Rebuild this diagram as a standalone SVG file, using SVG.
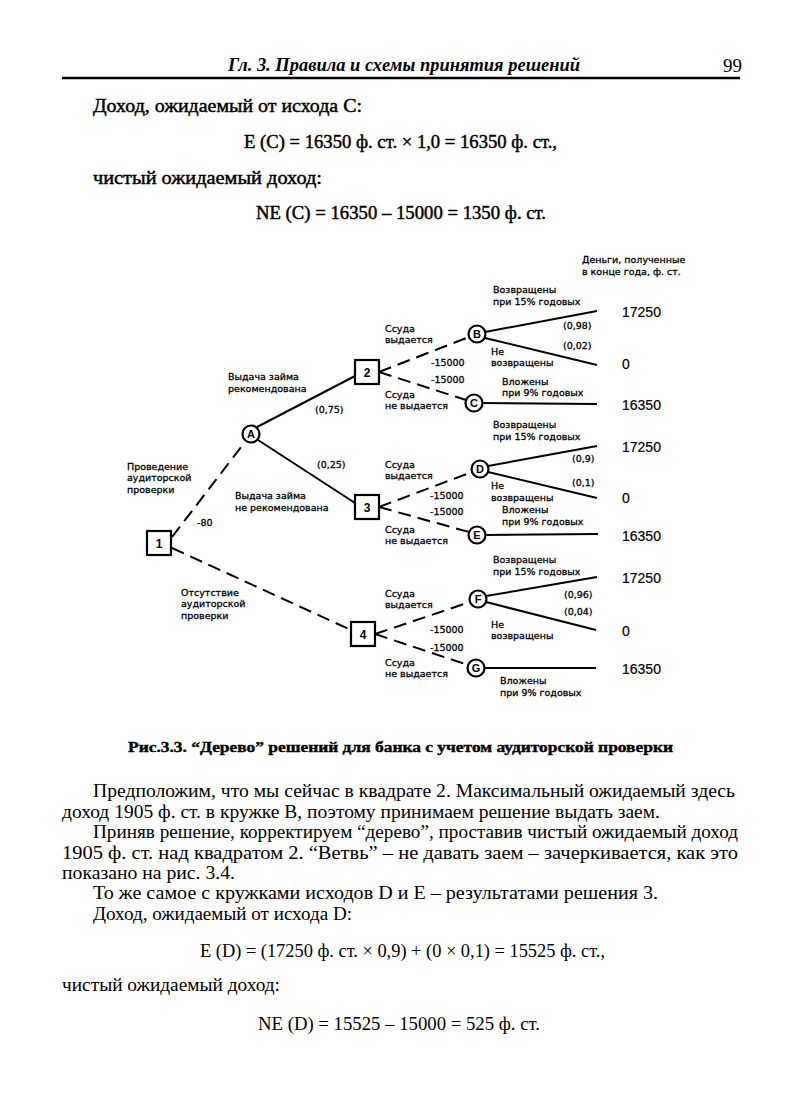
<svg xmlns="http://www.w3.org/2000/svg" width="800" height="1095" viewBox="0 0 800 1095">
<style>
.body{font-family:"Liberation Serif","Times New Roman",serif;font-size:18px;fill:#000}
.bold{stroke:#000;stroke-width:0.45}
.hdr{font-family:"Liberation Serif",serif;font-style:italic;font-weight:bold;font-size:19px}
.lbl{font-family:"DejaVu Sans",sans-serif;font-size:9.5px;fill:#000;stroke:#000;stroke-width:0.3}
.val{font-family:"Liberation Sans",Arial,sans-serif;font-size:14px;fill:#000;stroke:#000;stroke-width:0.2}
.sq{fill:#fff;stroke:#000;stroke-width:2.2}
.cir{fill:#fff;stroke:#000;stroke-width:2.2}
.nl{font-family:"Liberation Sans",Arial,sans-serif;font-weight:bold;font-size:12px;text-anchor:middle}
.cl{font-family:"Liberation Sans",Arial,sans-serif;font-weight:bold;font-size:11px;text-anchor:middle}
.solid{stroke:#000;stroke-width:2;fill:none}
.dash{stroke:#000;stroke-width:2;fill:none;stroke-dasharray:13 7}
</style>
<rect width="800" height="1095" fill="#fff"/>
<!-- header -->
<text class="hdr" x="228" y="71" textLength="352" lengthAdjust="spacingAndGlyphs">Гл. 3. Правила и схемы принятия решений</text>
<text class="body" x="723" y="72" style="font-size:19px">99</text>
<line x1="62" y1="78" x2="740" y2="78" stroke="#000" stroke-width="2.5"/>
<!-- top text -->
<g class="body bold">
<text x="93" y="112" textLength="269" lengthAdjust="spacingAndGlyphs">Доход, ожидаемый от исхода С:</text>
<text x="244" y="148" textLength="313" lengthAdjust="spacingAndGlyphs">E (C) = 16350 ф. ст. × 1,0 = 16350 ф. ст.,</text>
<text x="93" y="184" textLength="229" lengthAdjust="spacingAndGlyphs">чистый ожидаемый доход:</text>
<text x="256" y="219" textLength="290" lengthAdjust="spacingAndGlyphs">NE (C) = 16350 – 15000 = 1350 ф. ст.</text>
</g>
<!-- connectors -->
<g id="connectors">
<line class="dash" x1="172" y1="537" x2="245" y2="442"/>
<line class="dash" x1="172" y1="548" x2="351" y2="630"/>
<line class="solid" x1="257" y1="427" x2="355" y2="376"/>
<line class="solid" x1="258" y1="440" x2="355" y2="503"/>
<line class="dash" x1="379" y1="372" x2="469" y2="337"/>
<line class="dash" x1="379" y1="372" x2="466" y2="400"/>
<line class="dash" x1="379" y1="507" x2="472" y2="472"/>
<line class="dash" x1="379" y1="507" x2="469" y2="532"/>
<line class="dash" x1="375" y1="634" x2="470" y2="602"/>
<line class="dash" x1="375" y1="634" x2="468" y2="665"/>
<line class="solid" x1="485" y1="332" x2="597" y2="311"/>
<line class="solid" x1="485" y1="338" x2="597" y2="365"/>
<line class="solid" x1="482" y1="403" x2="597" y2="404"/>
<line class="solid" x1="488" y1="466" x2="597" y2="446"/>
<line class="solid" x1="488" y1="472" x2="597" y2="498"/>
<line class="solid" x1="485" y1="535" x2="598" y2="534"/>
<line class="solid" x1="486" y1="596" x2="597" y2="577"/>
<line class="solid" x1="486" y1="602" x2="596" y2="630"/>
<line class="solid" x1="484" y1="668" x2="596" y2="668"/>
</g>
<!-- nodes -->
<g id="n1"><rect class="sq" x="147" y="531" width="24" height="24"/><text class="nl" x="159" y="548">1</text></g>
<g id="n2"><rect class="sq" x="355" y="360" width="24" height="24"/><text class="nl" x="367" y="377">2</text></g>
<g id="n3"><rect class="sq" x="355" y="495" width="24" height="24"/><text class="nl" x="367" y="512">3</text></g>
<g id="n4"><rect class="sq" x="351" y="622" width="24" height="24"/><text class="nl" x="363" y="639">4</text></g>
<g id="nA"><circle class="cir" cx="251" cy="434" r="8.5"/><text class="cl" x="251" y="438">A</text></g>
<g id="nB"><circle class="cir" cx="477" cy="334" r="8.5"/><text class="cl" x="477" y="338">B</text></g>
<g id="nC"><circle class="cir" cx="474" cy="403" r="8.5"/><text class="cl" x="474" y="407">C</text></g>
<g id="nD"><circle class="cir" cx="480" cy="469" r="8.5"/><text class="cl" x="480" y="473">D</text></g>
<g id="nE"><circle class="cir" cx="477" cy="535" r="8.5"/><text class="cl" x="477" y="539">E</text></g>
<g id="nF"><circle class="cir" cx="478" cy="599" r="8.5"/><text class="cl" x="478" y="603">F</text></g>
<g id="nG"><circle class="cir" cx="476" cy="668" r="8.5"/><text class="cl" x="476" y="672">G</text></g>
<!-- labels -->
<g class="lbl">
<text x="582" y="263">Деньги, полученные</text>
<text x="582" y="275">в конце года, ф. ст.</text>
<text x="493" y="293">Возвращены</text>
<text x="493" y="305">при 15% годовых</text>
<text x="563" y="329">(0,98)</text>
<text x="563" y="349">(0,02)</text>
<text x="491" y="355">Не</text>
<text x="491" y="366">возвращены</text>
<text x="502" y="385">Вложены</text>
<text x="502" y="396">при 9% годовых</text>
<text x="385" y="332">Ссуда</text>
<text x="385" y="343">выдается</text>
<text x="431" y="366">-15000</text>
<text x="431" y="383">-15000</text>
<text x="385" y="398">Ссуда</text>
<text x="385" y="409">не выдается</text>
<text x="228" y="380">Выдача займа</text>
<text x="228" y="392">рекомендована</text>
<text x="315" y="413">(0,75)</text>
<text x="493" y="428">Возвращены</text>
<text x="493" y="440">при 15% годовых</text>
<text x="572" y="462">(0,9)</text>
<text x="572" y="486">(0,1)</text>
<text x="491" y="489">Не</text>
<text x="491" y="501">возвращены</text>
<text x="502" y="513">Вложены</text>
<text x="502" y="525">при 9% годовых</text>
<text x="317" y="468">(0,25)</text>
<text x="385" y="468">Ссуда</text>
<text x="385" y="479">выдается</text>
<text x="430" y="499">-15000</text>
<text x="430" y="515">-15000</text>
<text x="385" y="533">Ссуда</text>
<text x="385" y="544">не выдается</text>
<text x="235" y="499">Выдача займа</text>
<text x="235" y="511">не рекомендована</text>
<text x="127" y="470">Проведение</text>
<text x="127" y="481">аудиторской</text>
<text x="127" y="493">проверки</text>
<text x="197" y="526">-80</text>
<text x="181" y="596">Отсутствие</text>
<text x="181" y="607">аудиторской</text>
<text x="181" y="619">проверки</text>
<text x="385" y="597">Ссуда</text>
<text x="385" y="608">выдается</text>
<text x="430" y="633">-15000</text>
<text x="430" y="651">-15000</text>
<text x="385" y="666">Ссуда</text>
<text x="385" y="677">не выдается</text>
<text x="493" y="563">Возвращены</text>
<text x="493" y="575">при 15% годовых</text>
<text x="564" y="598">(0,96)</text>
<text x="564" y="615">(0,04)</text>
<text x="491" y="628">Не</text>
<text x="491" y="639">возвращены</text>
<text x="500" y="684">Вложены</text>
<text x="500" y="696">при 9% годовых</text>
</g>
<g class="val">
<text x="622" y="317">17250</text>
<text x="622" y="369">0</text>
<text x="622" y="410">16350</text>
<text x="622" y="452">17250</text>
<text x="622" y="503">0</text>
<text x="622" y="541">16350</text>
<text x="622" y="583">17250</text>
<text x="622" y="636">0</text>
<text x="622" y="674">16350</text>
</g>
<!-- caption -->
<text class="body" x="128" y="752" font-weight="bold" stroke="#000" stroke-width="0.4" style="font-size:15px" textLength="545" lengthAdjust="spacingAndGlyphs">Рис.3.3. “Дерево” решений для банка с учетом аудиторской проверки</text>
<!-- paragraphs -->
<g class="body">
<text x="93" y="797" textLength="642" lengthAdjust="spacingAndGlyphs">Предположим, что мы сейчас в квадрате 2. Максимальный ожидаемый здесь</text>
<text x="62" y="818" textLength="598" lengthAdjust="spacingAndGlyphs">доход 1905 ф. ст. в кружке В, поэтому принимаем решение выдать заем.</text>
<text x="93" y="838" textLength="645" lengthAdjust="spacingAndGlyphs">Приняв решение, корректируем “дерево”, проставив чистый ожидаемый доход</text>
<text x="62" y="859" textLength="676" lengthAdjust="spacingAndGlyphs">1905 ф. ст. над квадратом 2. “Ветвь” – не давать заем – зачеркивается, как это</text>
<text x="62" y="879" textLength="173" lengthAdjust="spacingAndGlyphs">показано на рис. 3.4.</text>
<text x="93" y="899" textLength="565" lengthAdjust="spacingAndGlyphs">То же самое с кружками исходов D и E – результатами решения 3.</text>
<text x="93" y="920" textLength="259" lengthAdjust="spacingAndGlyphs">Доход, ожидаемый от исхода D:</text>
<text x="200" y="957" textLength="405" lengthAdjust="spacingAndGlyphs">E (D) = (17250 ф. ст. × 0,9) + (0  × 0,1) = 15525 ф. ст.,</text>
<text x="62" y="991" textLength="218" lengthAdjust="spacingAndGlyphs">чистый ожидаемый доход:</text>
<text x="258" y="1030" textLength="282" lengthAdjust="spacingAndGlyphs">NE (D) = 15525 – 15000 = 525 ф. ст.</text>
</g>
</svg>
